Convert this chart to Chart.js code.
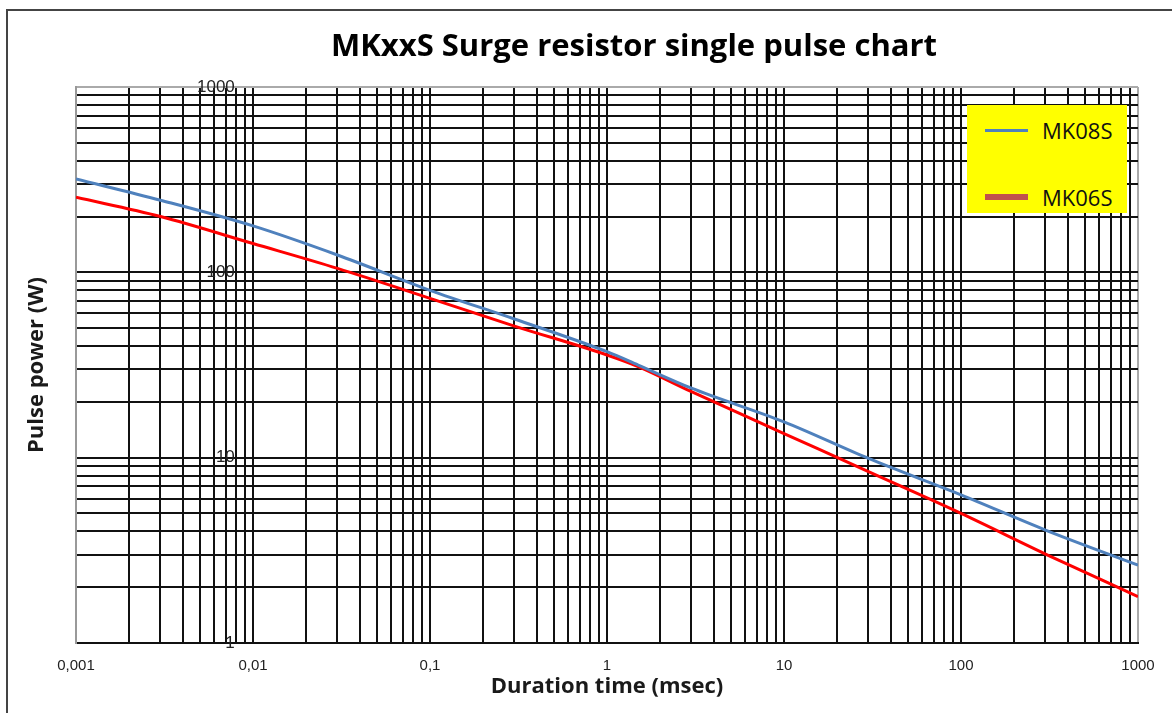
<!DOCTYPE html>
<html>
<head>
<meta charset="utf-8">
<title>MKxxS Surge resistor single pulse chart</title>
<script src="https://cdn.jsdelivr.net/npm/chart.js@4.4.1/dist/chart.umd.min.js"></script>
<style>
  body { margin: 0; background: #fff; }
  #wrap { position: relative; width: 1172px; height: 713px; overflow: hidden; }
  #frame { position: absolute; left: 6px; top: 9px; width: 1300px; height: 900px;
           border-left: 2px solid #444; border-top: 2px solid #444; }
  #chart { position: absolute; left: 0; top: 0; }
  #title { position: absolute; left: 0; top: 25px; width: 1268px; text-align: center;
           font: 700 31px 'Open Sans', sans-serif; line-height: 38px; color: #000; }
  #legend { position: absolute; left: 967px; top: 105px; width: 160px; height: 108px; background: #ffff00; }
  .item { position: absolute; left: 0; width: 160px; height: 30px; }
  .swatch { position: absolute; left: 18px; width: 43px; }
  .label { position: absolute; left: 75px; top: 0; line-height: 30px;
           font: 22px 'Open Sans', sans-serif; color: #111; }
</style>
</head>
<body>
<div id="wrap">
  <div id="frame"></div>
  <canvas id="chart" width="1172" height="713"></canvas>
  <div id="title">MKxxS Surge resistor single pulse chart</div>
  <div id="legend"></div>
</div>
<script>
// values
const durations = [0.001, 0.003, 0.01, 0.03, 0.1, 0.3, 1, 1.5, 3, 10, 30, 100, 300, 1000];
const mk08s = [319, 245, 178, 124, 80, 56, 37.3, 31.6, 23.7, 15.6, 9.9, 6.3, 4.07, 2.63];
const mk06s = [254, 200, 143, 105, 72.4, 51.3, 35.8, 31.0, 22.7, 13.5, 8.4, 5.0, 3.02, 1.78];
const seriesNames = ['MK08S', 'MK06S'];
const xTickLabels = ['0,001', '0,01', '0,1', '1', '10', '100', '1000'];
const yTickLabels = ['1', '10', '100', '1000'];

// every 1..9 step of each decade, so all grid lines get drawn
function decadeTicks(min, max) {
  const out = [];
  for (let e = Math.round(Math.log10(min)); e < Math.round(Math.log10(max)); e++) {
    for (let m = 1; m < 10; m++) {
      out.push({ value: Number((m * Math.pow(10, e)).toPrecision(3)) });
    }
  }
  out.push({ value: max });
  return out;
}

function isDecade(v) {
  const e = Math.log10(v);
  return Math.abs(e - Math.round(e)) < 1e-9;
}

const points = (ys) => durations.map((d, i) => ({ x: d, y: ys[i] }));

const ctx = document.getElementById('chart').getContext('2d');
const chart = new Chart(ctx, {
  type: 'line',
  data: {
    datasets: [
      {
        label: seriesNames[0],
        data: points(mk08s),
        borderColor: '#4f81bd',
        borderWidth: 3,
        pointRadius: 0,
        cubicInterpolationMode: 'monotone'
      }, {
        label: seriesNames[1],
        data: points(mk06s),
        borderColor: '#ff0000',
        borderWidth: 3,
        pointRadius: 0,
        cubicInterpolationMode: 'monotone'
      }
    ]
  },
  options: {
    responsive: false,
    animation: false,
    events: [],
    layout: { padding: { left: 6, top: 87, right: 34, bottom: 0 } },
    plugins: { legend: { display: false }, title: { display: false }, tooltip: { enabled: false } },
    scales: {
      x: {
        type: 'logarithmic',
        min: 0.001,
        max: 1000,
        afterBuildTicks: (scale) => { scale.ticks = decadeTicks(0.001, 1000); },
        afterFit: (scale) => { scale.height = 70; },
        grid: {
          color: (c) => (c.tick && (c.tick.value === 1000 || c.tick.value === 0.001)) ? '#aaa' : '#111',
          lineWidth: 2,
          drawTicks: false
        },
        border: { color: '#111', width: 2 },
        ticks: {
          autoSkip: false,
          maxRotation: 0,
          minRotation: 0,
          padding: 14,
          color: '#222',
          font: { family: 'Liberation Sans', size: 15 },
          callback: (v) => isDecade(v) ? xTickLabels[Math.round(Math.log10(v)) + 3] : ''
        },
        title: {
          display: true,
          text: 'Duration time (msec)',
          color: '#1a1a1a',
          font: { family: 'Open Sans', size: 22, weight: 'bold' },
          padding: { top: 0, bottom: 13 }
        }
      },
      y: {
        type: 'logarithmic',
        min: 1,
        max: 1000,
        afterBuildTicks: (scale) => { scale.ticks = decadeTicks(1, 1000); },
        afterFit: (scale) => {
          scale.width = 70;
          // the big label padding must not push the plot down
          scale.paddingTop = 0;
          scale.paddingBottom = 0;
        },
        grid: {
          color: (c) => (c.tick && c.tick.value === 1000) ? '#aaa' : '#111',
          lineWidth: 2,
          drawTicks: false
        },
        border: { color: '#999', width: 2 },
        ticks: {
          autoSkip: false,
          mirror: true,
          crossAlign: 'far',
          padding: 121,
          color: '#222',
          font: { family: 'Liberation Sans', size: 17 },
          callback: (v) => isDecade(v) ? yTickLabels[Math.round(Math.log10(v))] : ''
        },
        title: {
          display: true,
          text: 'Pulse power (W)',
          color: '#1a1a1a',
          font: { family: 'Open Sans', size: 22, weight: 'bold' },
          padding: { top: 18, bottom: 0 }
        }
      }
    }
  }
});

// legend box: swatches follow the reference (the MK06S swatch is darker and thicker)
const swatches = [
  { color: '#4f81bd', height: 3, top: 25 },
  { color: '#c0504d', height: 6, top: 92 }
];
const legend = document.getElementById('legend');
seriesNames.forEach((name, i) => {
  const s = swatches[i];
  const item = document.createElement('div');
  item.className = 'item';
  item.style.top = (s.top - 15) + 'px';
  item.innerHTML = '<div class="swatch" style="top:' + (15 - s.height / 2) + 'px;height:' + s.height +
    'px;background:' + s.color + '"></div><div class="label">' + name + '</div>';
  legend.appendChild(item);
});
</script>
</body>
</html>
